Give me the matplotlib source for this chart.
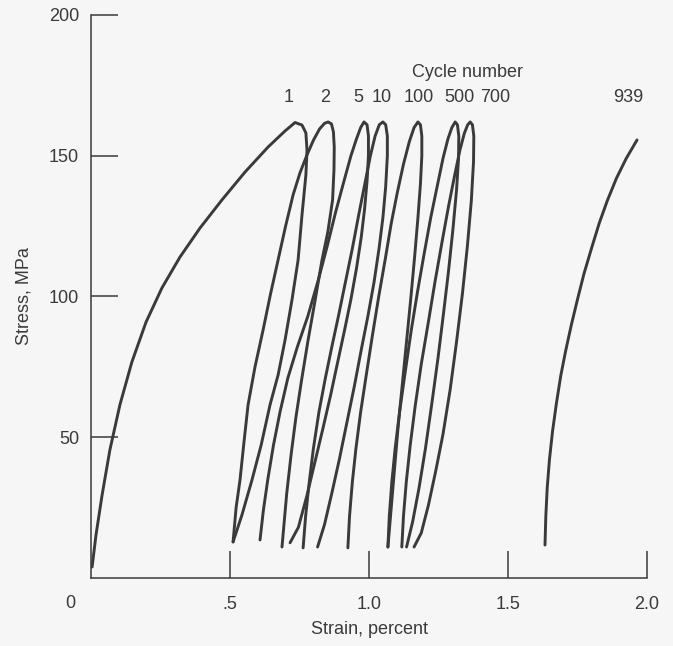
import matplotlib.pyplot as plt

# strain (percent) / stress (MPa), one curve per shown cycle
# (loading branch up to the peak, then the unloading branch)
cyc1_x = [0.004, 0.018, 0.040, 0.068, 0.104, 0.147, 0.198, 0.255, 0.320, 0.392, 0.471,
          0.554, 0.637, 0.698, 0.734, 0.759, 0.773, 0.777, 0.773, 0.759, 0.745, 0.723,
          0.698, 0.673, 0.644, 0.612, 0.579, 0.543, 0.511]
cyc1_y = [3.9, 15.3, 29.5, 45.5, 61.5, 76.7, 90.9, 103.0, 114.0, 124.3, 134.3,
          144.2, 153.1, 158.8, 161.8, 160.9, 158.1, 152.0, 143.2, 129.0, 113.0, 98.8,
          84.5, 72.1, 61.5, 47.2, 34.8, 22.4, 12.8]

cyc2_x = [0.511, 0.522, 0.536, 0.550, 0.565, 0.590, 0.619, 0.646, 0.673, 0.700, 0.727,
          0.752, 0.777, 0.800, 0.822, 0.840, 0.853, 0.865, 0.872, 0.875, 0.874, 0.869,
          0.852, 0.831, 0.805, 0.780, 0.757, 0.737, 0.720, 0.704, 0.687]
cyc2_y = [12.8, 25.0, 34.8, 48.0, 61.5, 75.0, 88.1, 101.0, 113.0, 125.0, 136.1,
          144.0, 150.3, 155.5, 159.5, 161.5, 162.0, 161.3, 158.5, 153.0, 145.0, 134.3,
          123.0, 113.0, 98.0, 84.0, 70.0, 57.0, 44.0, 30.0, 11.0]

cyc5_x = [0.608, 0.620, 0.636, 0.656, 0.680, 0.708, 0.742, 0.780, 0.818, 0.850, 0.880,
          0.910, 0.935, 0.955, 0.970, 0.982, 0.993, 0.998, 0.998, 0.993, 0.984, 0.972,
          0.955, 0.935, 0.912, 0.888, 0.862, 0.834, 0.805, 0.776, 0.746, 0.716]
cyc5_y = [13.5, 24.0, 35.0, 47.0, 59.0, 71.0, 82.0, 93.0, 106.0, 118.0, 130.0,
          141.0, 150.0, 156.0, 160.0, 162.0, 161.0, 157.0, 150.0, 141.0, 131.0, 121.0,
          110.0, 99.0, 88.0, 77.0, 65.0, 53.0, 41.0, 29.0, 18.0, 12.5]

cyc10_x = [0.763, 0.772, 0.785, 0.800, 0.820, 0.843, 0.866, 0.890, 0.915, 0.940, 0.963,
           0.985, 1.005, 1.022, 1.037, 1.050, 1.060, 1.066, 1.066, 1.060, 1.050, 1.036,
           1.018, 0.996, 0.972, 0.947, 0.920, 0.893, 0.866, 0.840, 0.815]
cyc10_y = [10.7, 22.0, 34.0, 46.0, 59.0, 71.0, 82.0, 93.0, 105.0, 117.0, 129.0,
           140.0, 150.0, 157.0, 161.0, 162.0, 161.0, 157.0, 150.0, 139.0, 128.0, 117.0,
           105.0, 93.0, 81.0, 68.0, 55.0, 42.0, 30.0, 19.0, 11.0]

cyc100_x = [0.924, 0.930, 0.940, 0.953, 0.970, 0.990, 1.012, 1.035, 1.058, 1.080, 1.102,
            1.124, 1.145, 1.162, 1.176, 1.185, 1.190, 1.190, 1.185, 1.176, 1.164, 1.150,
            1.135, 1.120, 1.105, 1.092, 1.080, 1.068]
cyc100_y = [10.7, 22.0, 34.0, 46.0, 59.0, 72.0, 86.0, 100.0, 113.0, 126.0, 137.0,
            147.0, 155.0, 160.0, 162.0, 161.0, 157.0, 150.0, 140.0, 128.0, 114.0, 99.0,
            84.0, 69.0, 54.0, 39.0, 25.0, 11.0]

cyc500_x = [1.068, 1.073, 1.082, 1.094, 1.110, 1.130, 1.152, 1.175, 1.198, 1.222, 1.245,
            1.266, 1.284, 1.298, 1.310, 1.318, 1.323, 1.322, 1.315, 1.302, 1.286, 1.268,
            1.248, 1.226, 1.203, 1.180, 1.157, 1.135]
cyc500_y = [11.0, 22.0, 34.0, 46.0, 59.0, 73.0, 88.0, 102.0, 115.0, 128.0, 139.0,
            149.0, 156.0, 160.0, 162.0, 161.0, 157.0, 149.0, 138.0, 124.0, 109.0, 94.0,
            78.0, 62.0, 46.0, 32.0, 20.0, 11.0]

cyc700_x = [1.118, 1.124, 1.134, 1.148, 1.166, 1.188, 1.212, 1.237, 1.262, 1.286, 1.308,
            1.327, 1.343, 1.355, 1.364, 1.372, 1.377, 1.376, 1.368, 1.354, 1.336, 1.315,
            1.292, 1.266, 1.240, 1.214, 1.188, 1.162]
cyc700_y = [11.0, 22.0, 34.0, 47.0, 61.0, 76.0, 90.0, 105.0, 119.0, 132.0, 143.0,
            152.0, 158.0, 161.0, 162.0, 161.0, 157.0, 148.0, 134.0, 118.0, 101.0, 84.0,
            67.0, 51.0, 38.0, 26.0, 16.0, 11.0]

cyc939_x = [1.633, 1.636, 1.641, 1.649, 1.660, 1.674, 1.690, 1.708, 1.728, 1.750, 1.773,
            1.800, 1.828, 1.857, 1.890, 1.925, 1.964]
cyc939_y = [11.7, 22.0, 32.0, 42.0, 52.0, 62.0, 72.0, 81.0, 90.0, 99.0, 108.0,
            117.0, 126.0, 134.0, 142.0, 149.0, 155.6]

cycle_labels = ["1", "2", "5", "10", "100", "500", "700", "939"]
label_x = [0.712, 0.842, 0.960, 1.047, 1.180, 1.324, 1.453, 1.932]
label_y = 167.5

xticks = [0.5, 1.0, 1.5, 2.0]
xticklabels = [".5", "1.0", "1.5", "2.0"]
yticks = [50, 100, 150, 200]

ink = "#3a3a3a"
bg = "#f6f6f6"
plt.rcParams['font.family'] = ['Liberation Sans', 'DejaVu Sans']

fig = plt.figure(figsize=(6.73, 6.46), dpi=100, facecolor=bg)
ax = fig.add_axes([0.1352, 0.1053, 0.8262, 0.8715])
ax.set_facecolor(bg)

curves = [(cyc1_x, cyc1_y), (cyc2_x, cyc2_y), (cyc5_x, cyc5_y), (cyc10_x, cyc10_y),
          (cyc100_x, cyc100_y), (cyc500_x, cyc500_y), (cyc700_x, cyc700_y),
          (cyc939_x, cyc939_y)]
for cx, cy in curves:
    ax.plot(cx, cy, color=ink, lw=2.1, solid_joinstyle='round', solid_capstyle='round')

for t, lx in zip(cycle_labels, label_x):
    ax.text(lx, label_y, t, ha='center', va='bottom', fontsize=13, color=ink)
ax.text(1.353, 179.4, "Cycle number", ha='center', va='center', fontsize=13, color=ink)

ax.set_xlim(0, 2.0)
ax.set_ylim(0, 200)
ax.set_xticks(xticks)
ax.set_xticklabels(xticklabels)
ax.set_yticks(yticks)
ax.tick_params(direction='in', length=19.5, width=1.1, color=ink, labelsize=13,
               labelcolor=ink)
ax.tick_params(axis='x', pad=13)
ax.tick_params(axis='y', pad=8.5)
ax.text(-0.075, -9, "0", ha='center', va='center', fontsize=13, color=ink)

for s in ['top', 'right']:
    ax.spines[s].set_visible(False)
for s in ['left', 'bottom']:
    ax.spines[s].set_color(ink)
    ax.spines[s].set_linewidth(1.1)

ax.set_xlabel("Strain, percent", fontsize=13, color=ink, labelpad=6)
ax.set_ylabel("Stress, MPa", fontsize=13, color=ink, labelpad=12)

fig.savefig("out.png", dpi=100, facecolor=bg)
